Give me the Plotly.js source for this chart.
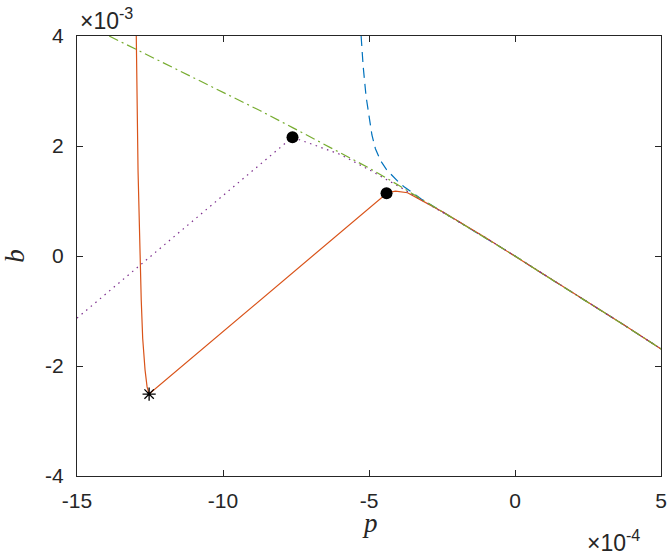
<!DOCTYPE html>
<html>
<head>
<meta charset="utf-8">
<script src="https://cdn.plot.ly/plotly-3.0.1.min.js"></script>
<style>
  html, body { margin: 0; padding: 0; background: #fff; }
  #chart { width: 668px; height: 555px; }
</style>
</head>
<body>
<div id="chart"></div>
<script>
/* ===== Data (p in 1e-4, b in 1e-3) ===== */
// shared tail where all branches merge
const tailP = [-2.44, -1, 0, 1.23, 2.5, 3.75, 5];
const tailB = [0.79, 0.33, 0, -0.42, -0.84, -1.26, -1.69];

const blueP = [-5.27, -5.2, -5.1, -5.0, -4.9, -4.78, -4.6, -4.4, -4.2, -4.0, -3.8, -3.5, -3.2].concat(tailP);
const blueB = [4.0, 3.45, 2.9, 2.5, 2.2, 1.95, 1.73, 1.57, 1.45, 1.35, 1.26, 1.14, 1.03].concat(tailB);

const orangeP = [-12.97, -12.91, -12.8, -12.75, -12.67, -12.6, -12.53, -4.37, -4.09, -3.68, -3.23].concat(tailP);
const orangeB = [4.0, 1.56, -0.8, -1.5, -2.07, -2.38, -2.51, 1.15, 1.18, 1.15, 1.02].concat(tailB);

const purpleP = [-15, -7.62, -6, -5, -4, -3.2].concat(tailP);
const purpleB = [-1.13, 2.16, 1.85, 1.57, 1.27, 1.02].concat(tailB);

const greenP = [-13.9, -12, -10, -8.72, -7.6, -6, -5, -4, -3.2].concat(tailP);
const greenB = [4.0, 3.5, 2.97, 2.64, 2.33, 1.89, 1.6, 1.29, 1.03].concat(tailB);

const dotsP = [-7.62, -4.4];
const dotsB = [2.16, 1.14];
const starP = [-12.53];
const starB = [-2.51];

const xTicks = [-15, -10, -5, 0, 5];
const xTickText = ["-15", "-10", "-5", "0", "5"];
const yTicks = [-4, -2, 0, 2, 4];
const yTickText = ["-4", "-2", "0", "2", "4"];

/* ===== Traces ===== */
const lw = 1.2;
const traces = [
    { x: blueP, y: blueB, mode: "lines", line: { color: "#0072BD", width: lw, dash: "10px,6px" } },
    { x: orangeP, y: orangeB, mode: "lines", line: { color: "#D95319", width: lw } },
    { x: purpleP, y: purpleB, mode: "lines", line: { color: "#7E2F8E", width: lw, dash: "1.5px,4.5px" } },
    { x: greenP, y: greenB, mode: "lines", line: { color: "#77AC30", width: lw, dash: "10px,4px,2px,4px" } },
    { x: dotsP, y: dotsB, mode: "markers", marker: { color: "#000", size: 12 } },
    { x: starP, y: starB, mode: "markers",
      marker: { symbol: "asterisk-open", size: 11, color: "#000", line: { color: "#000", width: 1.3 } } }
];

const tickFont = { family: "Liberation Sans, Arial, sans-serif", size: 21, color: "#262626" };
const labelFont = { family: "Liberation Serif, serif", size: 27, color: "#262626", style: "italic" };
const expFont = { family: "Liberation Sans, Arial, sans-serif", size: 23, color: "#262626" };

const axisCommon = {
    showgrid: false,
    zeroline: false,
    showline: true,
    mirror: "ticks",
    linecolor: "#262626",
    linewidth: 1,
    ticks: "inside",
    ticklen: 6,
    tickcolor: "#262626",
    tickwidth: 1,
    tickfont: tickFont
};

const layout = {
    width: 668,
    height: 555,
    margin: { l: 77, r: 7, t: 36, b: 79 },
    paper_bgcolor: "#fff",
    plot_bgcolor: "#fff",
    showlegend: false,
    xaxis: Object.assign({}, axisCommon, {
        range: [-15, 5],
        tickmode: "array",
        tickvals: xTicks,
        ticktext: xTickText,
        ticklabelstandoff: 6
    }),
    yaxis: Object.assign({}, axisCommon, {
        range: [-4, 4],
        tickmode: "array",
        tickvals: yTicks,
        ticktext: yTickText,
        ticklabelstandoff: 8,
        title: { text: "b", standoff: 20, font: labelFont }
    }),
    annotations: [
        // x-axis label placed by hand (MATLAB puts it closer than Plotly's title)
        { xref: "paper", yref: "paper", x: 0.502, y: -0.106, xanchor: "center", yanchor: "middle",
          text: "p", showarrow: false, font: labelFont },
        { xref: "paper", yref: "paper", x: 0.002, y: 1.038, xanchor: "left", yanchor: "middle",
          text: "×10<sup>-3</sup>", showarrow: false, font: expFont },
        { xref: "paper", yref: "paper", x: 0.87, y: -0.148, xanchor: "left", yanchor: "middle",
          text: "×10<sup>-4</sup>", showarrow: false, font: expFont }
    ]
};

Plotly.newPlot("chart", traces, layout, { displayModeBar: false, staticPlot: true });
</script>
</body>
</html>
